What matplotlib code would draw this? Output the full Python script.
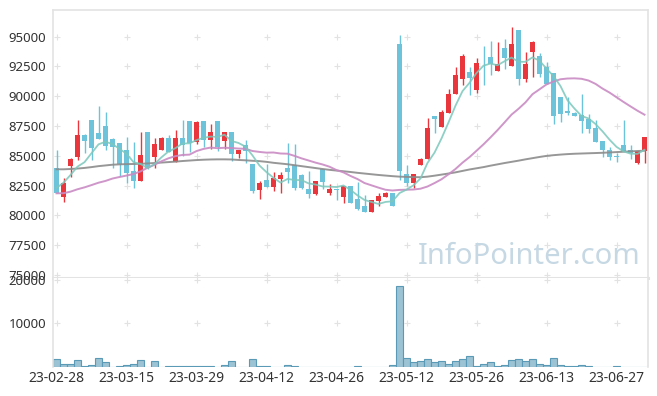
import numpy as np
import pandas as pd
import matplotlib
matplotlib.use('Agg')
import matplotlib.pyplot as plt

plt.rcParams['font.family'] = ['Noto Sans', 'DejaVu Sans']

# daily candles, 23-02-28 .. 23-07-04
opens = [83984, 81576, 84177, 84932, 86753, 88011, 86897, 87508, 86417, 86056,
         85494, 83733, 82918, 86980, 84932, 85494, 86475, 84513, 86475, 87927,
         86190, 87927, 86333, 87927, 86274, 86980, 85159, 85914, 84320, 82138,
         82977, 82415, 83061, 83984, 84236, 83397, 82222, 81803, 83900, 81861,
         82222, 81576, 82474, 81383, 80796, 80318, 81215, 81576, 81861, 94362,
         83481, 82750, 84236, 84714, 88347, 87399, 88624, 90168, 91426, 92064,
         90528, 93322, 93322, 92147, 94027, 92567, 95562, 91451, 93742, 93381,
         92483, 91929, 89916, 88766, 88624, 88431, 88070, 87340, 86249, 85536,
         85016, 85914, 85494, 84429, 85410]
highs = [85494, 83120, 84848, 88011, 86800, 88011, 89186, 88657, 86500, 86100,
         86560, 86190, 86980, 86980, 86475, 86560, 86753, 87172, 88011, 87927,
         87900, 87927, 87676, 87927, 87000, 87000, 85500, 86333, 84320, 82934,
         84320, 83607, 83649, 86056, 86000, 83450, 83758, 82893, 83900, 82617,
         82222, 82474, 82500, 82834, 81719, 81299, 81861, 82000, 81861, 95143,
         84236, 83481, 84848, 88154, 88347, 88850, 90587, 92433, 93549, 92483,
         93188, 94220, 94664, 94530, 94807, 95789, 95562, 93691, 94664, 93658,
         92903, 91929, 89916, 89941, 88650, 90193, 88515, 88011, 86249, 85771,
         85217, 88030, 85914, 85410, 86600]
lows = [81886, 81157, 83254, 84655, 85217, 84655, 86417, 85494, 83984, 83338,
        82750, 82331, 82918, 83900, 83959, 85494, 85300, 84513, 84990, 85352,
        86000, 85771, 85550, 85370, 85550, 84570, 84865, 84378, 81911, 81358,
        82415, 82053, 81911, 82700, 82138, 82250, 81442, 81720, 82264, 81720,
        81340, 81022, 81022, 80460, 80318, 80318, 80821, 81576, 80821, 82977,
        82474, 82281, 84236, 84714, 86897, 87399, 88624, 90168, 90948, 90109,
        90251, 90948, 91787, 92147, 92265, 92567, 90948, 91224, 91645, 91645,
        91031, 87676, 87869, 88431, 88372, 86900, 86897, 86190, 84932, 84655,
        84513, 85410, 84740, 84300, 84378]
closes = [81886, 82700, 84739, 86753, 86274, 85662, 86417, 85855, 85721, 84320,
          83590, 82918, 85075, 83959, 85998, 86475, 85352, 86475, 85914, 86056,
          87816, 86333, 86980, 85771, 86980, 85200, 85494, 85436, 82080, 82750,
          82415, 83145, 83397, 83623, 82331, 82331, 81803, 82893, 82834, 82247,
          82150, 82474, 81022, 80544, 80318, 81299, 81660, 81861, 80821, 83758,
          82750, 83481, 84739, 87315, 88070, 88708, 90193, 91787, 93406, 91560,
          92819, 93272, 92684, 92684, 93238, 94387, 91451, 92710, 94530, 91870,
          91031, 88347, 88515, 88573, 88372, 87950, 87298, 86190, 85494, 84882,
          84932, 85410, 85217, 85410, 86585]
volumes = [1766, 768, 768, 1536, 307, 538, 1997, 1075, 40, 307,
           538, 768, 1536, 77, 1306, 77, 307, 307, 307, 307,
           307, 307, 307, 77, 538, 1306, 77, 77, 1766, 307,
           307, 77, 77, 538, 307, 77, 77, 77, 0, 0,
           0, 77, 77, 307, 77, 77, 0, 0, 538, 18610,
           2150, 1075, 1306, 1920, 1075, 1306, 768, 1306, 1920, 2611,
           307, 768, 1075, 307, 538, 1536, 1920, 1306, 1920, 768,
           538, 2150, 538, 307, 307, 538, 307, 77, 77, 77,
           307, 0, 77, 0, 77]

# moving averages before enough candles are on screen
ma5_head = [82330, 82750, 83400, 84100]
ma20_head = [81860, 81870, 82000, 82200, 82360, 82550, 82750, 82900, 83100, 83230,
             83350, 83480, 83700, 84000, 84250, 84550, 84800, 84980, 85080]
ma_long = [83875, 83875, 83900, 83940, 83990, 84060, 84140, 84200, 84260, 84290,
           84310, 84320, 84340, 84370, 84400, 84440, 84480, 84520, 84570, 84610,
           84650, 84680, 84700, 84710, 84710, 84700, 84660, 84630, 84590, 84560,
           84500, 84420, 84360, 84300, 84220, 84140, 84060, 83980, 83900, 83830,
           83770, 83710, 83650, 83580, 83520, 83460, 83400, 83350, 83300, 83260,
           83240, 83220, 83210, 83260, 83340, 83430, 83520, 83620, 83740, 83860,
           83960, 84060, 84180, 84290, 84400, 84500, 84600, 84710, 84810, 84910,
           85000, 85060, 85110, 85150, 85180, 85200, 85220, 85240, 85260, 85290,
           85320, 85350, 85380, 85410, 85436]

tick_labels = ['23-02-28', '23-03-15', '23-03-29', '23-04-12', '23-04-26',
               '23-05-12', '23-05-26', '23-06-13', '23-06-27']
price_ticks = [75000, 77500, 80000, 82500, 85000, 87500, 90000, 92500, 95000]
vol_ticks = [10000, 20000]

n = len(closes)
x = np.arange(n)
o = np.array(opens, dtype=float)
c = np.array(closes, dtype=float)
cs = pd.Series(c)
ma5 = cs.rolling(5).mean()
ma5.iloc[:4] = ma5_head
ma20 = cs.rolling(20).mean()
ma20.iloc[:19] = ma20_head

RED = '#e8363c'
BLUE = '#6cc3da'
cols = [RED if cc >= oo else BLUE for oo, cc in zip(o, c)]

fig = plt.figure(figsize=(6.57, 3.96), dpi=100)
W, H = 657, 396
ax1 = fig.add_axes([53/W, 1-278/H, 595/W, 268/H])
ax2 = fig.add_axes([53/W, 1-367/H, 595/W, 89/H])

xt = list(range(0, n, 10))

# faint "+" grid marks
for ax, yt in ((ax1, price_ticks), (ax2, vol_ticks)):
    gx, gy = np.meshgrid(xt, yt)
    ax.scatter(gx.ravel(), gy.ravel(), marker='+', s=22, color='#e2e2e2',
               linewidths=0.8, zorder=0)

# candles
ax1.vlines(x, lows, highs, colors=cols, lw=1, zorder=2)
body_bot = np.minimum(o, c)
body_h = np.maximum(np.abs(c - o), 60)
ax1.bar(x, body_h, bottom=body_bot, width=0.72, color=cols, lw=0, zorder=3)

ax1.plot(x, ma_long, color='#8c8c8c', lw=1.4, alpha=0.9, zorder=4)
ax1.plot(x, ma20, color='#c98bc3', lw=1.4, alpha=0.9, zorder=4)
ax1.plot(x, ma5, color='#7cc8bc', lw=1.3, alpha=0.85, zorder=5)

ax1.text(0.80, 0.08, 'InfoPointer.com', transform=ax1.transAxes,
         fontsize=21, color='#c6d8e4', ha='center', va='center', zorder=1)

ax1.set_xlim(-0.5, n - 0.5)
ax1.set_ylim(74756, 97240)
ax1.set_yticks(price_ticks)
ax1.set_yticklabels([str(t) for t in price_ticks])
ax1.set_xticks([])

# volume
ax2.bar(x, volumes, width=1.0, color='#9cc3d3', edgecolor='#5b9ab6', lw=0.8, zorder=2)
ax2.set_xlim(-0.5, n - 0.5)
ax2.set_ylim(0, 20430)
ax2.set_yticks(vol_ticks)
ax2.set_yticklabels([str(t) for t in vol_ticks])
ax2.set_xticks(xt)
ax2.set_xticklabels(tick_labels)

for ax in (ax1, ax2):
    ax.tick_params(length=0, labelsize=9.5, colors='#333333', pad=5)
    for s in ax.spines.values():
        s.set_color('#e3e3e3')
        s.set_linewidth(1.2)
ax1.spines['bottom'].set_linewidth(2.2)
ax2.spines['top'].set_visible(False)
ax2.spines['bottom'].set_visible(False)
ax2.tick_params(axis='x', labelsize=10, pad=3)

fig.savefig('out.png', dpi=100)
